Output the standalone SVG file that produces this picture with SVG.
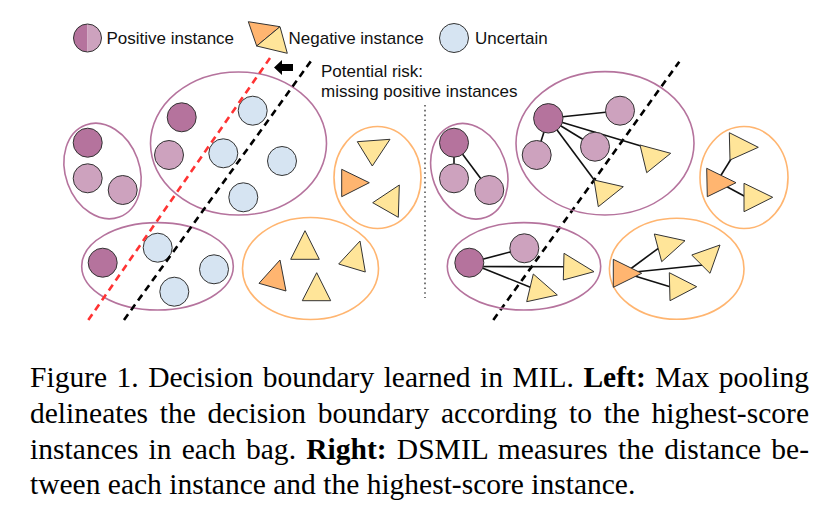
<svg xmlns="http://www.w3.org/2000/svg" width="833" height="509" viewBox="0 0 833 509">
<style>
.pd{fill:#b5739d;stroke:#333;stroke-width:1}
.pl{fill:#cda2be;stroke:#333;stroke-width:1}
.un{fill:#d6e4f2;stroke:#333;stroke-width:1}
.ng{fill:#ffb570;stroke:#333;stroke-width:1}
.ny{fill:#ffe599;stroke:#333;stroke-width:1}
.bp{fill:none;stroke:#b5739d;stroke-width:1.6}
.bo{fill:none;stroke:#ffb570;stroke-width:1.6}
.e{stroke:#111;stroke-width:1.6;fill:none}
.lg{font-family:"Liberation Sans",Arial,sans-serif;font-size:17px;fill:#111}
.cap{font-family:"Liberation Serif","Times New Roman",serif;font-size:29.5px;fill:#000}
.b{font-weight:bold}
</style>
<rect width="833" height="509" fill="#fff"/>

<!-- Legend -->
<g id="legend">
  <path d="M87.5,24 A14,14 0 0 0 87.5,52 Z" fill="#b5739d"/>
  <path d="M87.5,24 A14,14 0 0 1 87.5,52 Z" fill="#cda2be"/>
  <circle cx="87.5" cy="38" r="14" fill="none" stroke="#333" stroke-width="1"/>
  <text class="lg" x="106.5" y="43.5">Positive instance</text>
  <polygon class="ng" points="248.3,21.7 280,26.7 256.7,46"/>
  <polygon class="ny" points="280,26.7 287.3,53.3 256.7,46"/>
  <text class="lg" x="288.5" y="43.5">Negative instance</text>
  <circle class="un" cx="454" cy="38" r="14.5"/>
  <text class="lg" x="475" y="43.5">Uncertain</text>
</g>

<!-- Left panel -->
<g id="left-bag1">
  <ellipse class="bp" cx="102.5" cy="171" rx="37" ry="49" transform="rotate(-20 102.5 171)"/>
  <circle class="pd" cx="87.7" cy="142.7" r="14.5"/>
  <circle class="pl" cx="87.7" cy="178.3" r="14.5"/>
  <circle class="pl" cx="122.7" cy="190" r="14.5"/>
</g>
<g id="left-bag2">
  <ellipse class="bp" cx="238.5" cy="143.5" rx="88" ry="71.5"/>
  <circle class="pd" cx="181.7" cy="117.3" r="14.5"/>
  <circle class="pl" cx="169" cy="155" r="14.5"/>
  <circle class="un" cx="252.7" cy="110.7" r="14.5"/>
  <circle class="un" cx="223.3" cy="153.3" r="14.5"/>
  <circle class="un" cx="282" cy="161" r="14.5"/>
  <circle class="un" cx="243.3" cy="197.3" r="14.5"/>
</g>
<g id="left-bag3">
  <ellipse class="bo" cx="377.5" cy="177.5" rx="43.5" ry="51"/>
  <polygon class="ny" points="357.3,141.7 390,139.3 372.3,166"/>
  <polygon class="ng" points="341.7,169.3 369.3,182.7 341.7,196.7"/>
  <polygon class="ny" points="399.3,185 372.7,202.7 398.3,217.3"/>
</g>
<g id="left-bag4">
  <ellipse class="bp" cx="157.5" cy="266.3" rx="75.8" ry="43.7"/>
  <circle class="pd" cx="102.7" cy="262.7" r="14.5"/>
  <circle class="un" cx="157.7" cy="247.7" r="14.5"/>
  <circle class="un" cx="214" cy="269.3" r="14.5"/>
  <circle class="un" cx="174.3" cy="291.7" r="14.5"/>
</g>
<g id="left-bag5">
  <ellipse class="bo" cx="310.5" cy="268.5" rx="68" ry="51"/>
  <polygon class="ny" points="305,230.7 290.7,259.3 319.3,259.3"/>
  <polygon class="ny" points="360,241 338.7,264 365.3,272"/>
  <polygon class="ng" points="280,260 259,283.3 286,291"/>
  <polygon class="ny" points="316.7,272.7 302.3,300.7 330.7,300.7"/>
</g>

<!-- Decision boundaries and annotation -->
<g id="boundaries">
  <line x1="88.3" y1="320" x2="270" y2="58" stroke="#ff3333" stroke-width="2.6" stroke-dasharray="7,5"/>
  <line x1="124" y1="320" x2="311" y2="61" stroke="#000" stroke-width="2.6" stroke-dasharray="7,5"/>
  <line x1="493.3" y1="320" x2="679.3" y2="61.7" stroke="#000" stroke-width="2.6" stroke-dasharray="7,5"/>
  <line x1="425" y1="105" x2="425" y2="298" stroke="#555" stroke-width="1.6" stroke-dasharray="1.6,3.2"/>
</g>
<g id="risk-note">
  <polygon points="274,67.5 282,60 282,64 293,64 293,71 282,71 282,75" fill="#000"/>
  <text class="lg" x="321" y="77">Potential risk:</text>
  <text class="lg" x="321" y="97">missing positive instances</text>
</g>

<!-- Right panel connectors -->
<g id="connectors">
  <line class="e" x1="454" y1="142.7" x2="454" y2="178.3"/>
  <line class="e" x1="454" y1="142.7" x2="489.3" y2="190"/>
  <line class="e" x1="548.3" y1="118.3" x2="620" y2="110.7"/>
  <line class="e" x1="548.3" y1="118.3" x2="595" y2="146.7"/>
  <line class="e" x1="548.3" y1="118.3" x2="536.7" y2="155"/>
  <line class="e" x1="548.3" y1="118.3" x2="641" y2="146"/>
  <line class="e" x1="548.3" y1="118.3" x2="595" y2="181"/>
  <line class="e" x1="718" y1="180" x2="731.7" y2="158" stroke-width="2.4"/>
  <line class="e" x1="720" y1="183" x2="746" y2="197" stroke-width="2.4"/>
  <line class="e" x1="469.3" y1="262.7" x2="524.3" y2="248.3"/>
  <line class="e" x1="469.3" y1="266.5" x2="566" y2="266.7"/>
  <line class="e" x1="469.3" y1="262.7" x2="531" y2="287.5"/>
  <line class="e" x1="625" y1="273" x2="658.3" y2="248.3"/>
  <line class="e" x1="625" y1="273" x2="703.3" y2="265"/>
  <line class="e" x1="625" y1="273" x2="670" y2="286.7"/>
</g>

<!-- Right panel -->
<g id="right-bag1">
  <ellipse class="bp" cx="469.3" cy="171.2" rx="37" ry="49" transform="rotate(-20 469.3 171.2)"/>
  <circle class="pd" cx="454" cy="142.7" r="14.5"/>
  <circle class="pl" cx="454" cy="178.3" r="14.5"/>
  <circle class="pl" cx="489.3" cy="190" r="14.5"/>
</g>
<g id="right-bag2">
  <ellipse class="bp" cx="605" cy="143.3" rx="89" ry="71.7"/>
  <circle class="pd" cx="548.3" cy="118.3" r="14.7"/>
  <circle class="pl" cx="620" cy="110.7" r="14.5"/>
  <circle class="pl" cx="595" cy="146.7" r="14.5"/>
  <circle class="pl" cx="536.7" cy="155" r="14.5"/>
  <polygon class="ny" points="640,145 670.7,153.3 646.7,172.7"/>
  <polygon class="ny" points="594,180 623.3,186.7 598.3,206.7"/>
</g>
<g id="right-bag3">
  <ellipse class="bo" cx="744" cy="177.5" rx="44" ry="51"/>
  <polygon class="ny" points="729.3,132.7 758.3,147.3 730,160"/>
  <polygon class="ng" points="706.7,168.3 736,182.7 707.3,196.7"/>
  <polygon class="ny" points="744,183.3 772.7,197.3 744,211.7"/>
</g>
<g id="right-bag4">
  <ellipse class="bp" cx="524" cy="266.3" rx="76.7" ry="43.7"/>
  <circle class="pd" cx="469.3" cy="262.7" r="14.5"/>
  <circle class="pl" cx="524.3" cy="248.3" r="14.5"/>
  <polygon class="ny" points="564,253.3 594,271.7 563.3,280"/>
  <polygon class="ny" points="533.3,274 557.3,295 526.7,301.7"/>
</g>
<g id="right-bag5">
  <ellipse class="bo" cx="676.7" cy="268.8" rx="67.3" ry="50.5"/>
  <polygon class="ny" points="654.3,234 685,240.7 661.7,261.7"/>
  <polygon class="ny" points="720,245 691.7,255 710,273.3"/>
  <polygon class="ny" points="669.3,272.7 696.7,286.7 670,300.7"/>
  <polygon class="ng" points="613.3,259.3 641.7,273.3 613.3,287.3"/>
</g>

<!-- Caption -->
<g id="caption">
  <text class="cap" x="30" y="386.5" textLength="779" lengthAdjust="spacing" word-spacing="2">Figure 1. Decision boundary learned in MIL. <tspan class="b">Left:</tspan> Max pooling</text>
  <text class="cap" x="30" y="422.5" textLength="779" lengthAdjust="spacing" word-spacing="4.3">delineates the decision boundary according to the highest-score</text>
  <text class="cap" x="30" y="458.5" textLength="779" lengthAdjust="spacing" word-spacing="2.7">instances in each bag. <tspan class="b">Right:</tspan> DSMIL measures the distance be-</text>
  <text class="cap" x="30" y="494">tween each instance and the highest-score instance.</text>
</g>
</svg>
